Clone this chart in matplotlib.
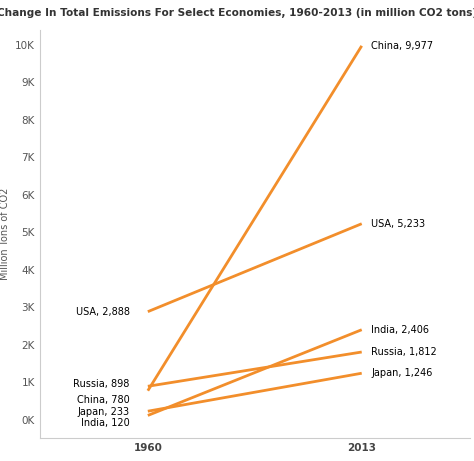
import matplotlib.pyplot as plt

countries = ["China", "USA", "India", "Russia", "Japan"]
v1960 = [780, 2888, 120, 898, 233]
v2013 = [9977, 5233, 2406, 1812, 1246]
years = ["1960", "2013"]

fig = plt.figure(figsize=(4.74, 4.61), dpi=100)
ax = fig.add_axes([0.084, 0.05, 0.907, 0.885])

for name, a, b in zip(countries, v1960, v2013):
    ax.plot([0, 1], [a, b], color="#f28e2b", lw=2, solid_capstyle="butt")
    ax.text(1.045, b, f"{name}, {b:,}", fontsize=7, va="center", ha="left")

# left labels, nudged where they overlap
left_y = {"China": 530, "USA": 2888, "India": -70, "Russia": 950, "Japan": 200}
for name, a in zip(countries, v1960):
    ax.text(-0.085, left_y[name], f"{name}, {a:,}", fontsize=7, va="center", ha="right")

ax.set_xlim(-0.505, 1.505)
ax.set_ylim(-480, 10400)
ax.set_xticks([0, 1])
ax.set_xticklabels(years, fontsize=7.5, fontweight="bold", color="#444444")
ax.set_yticks(range(0, 10001, 1000))
ax.set_yticklabels([f"{i}K" for i in range(0, 11)], fontsize=7.5, color="#555555")
ax.tick_params(length=0)
ax.set_ylabel("Million Tons of CO2", fontsize=7, color="#555555")
for s in ["top", "right"]:
    ax.spines[s].set_visible(False)
for s in ["left", "bottom"]:
    ax.spines[s].set_color("#cccccc")

fig.text(0.5, 0.972, "Change In Total Emissions For Select Economies, 1960-2013 (in million CO2 tons)",
         ha="center", va="center", fontsize=7.6, fontweight="bold", color="#333333")

fig.savefig("out.png", dpi=100)
